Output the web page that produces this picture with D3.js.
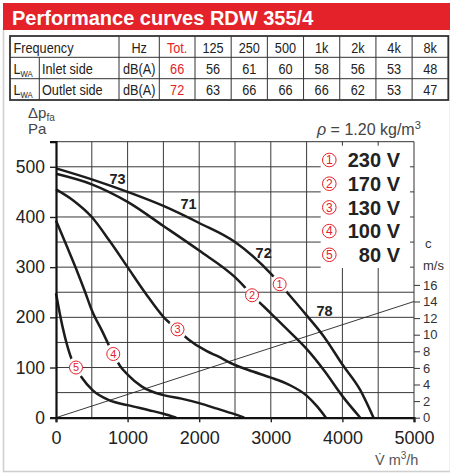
<!DOCTYPE html>
<html>
<head>
<meta charset="utf-8">
<script src="https://cdn.jsdelivr.net/npm/d3@7/dist/d3.min.js"></script>
<style>
  body { margin: 0; background: #fff; }
  text { font-family: "Liberation Sans", Arial, Helvetica, sans-serif; }
</style>
</head>
<body>
<div id="chart"></div>
<script>
// sound table
const freqs = ["125", "250", "500", "1k", "2k", "4k", "8k"];
const inletLevels = [56, 61, 60, 58, 56, 53, 48];
const outletLevels = [63, 66, 66, 66, 62, 53, 47];
const inletTotal = 66;
const outletTotal = 72;

// fan curves, [airflow m3/h, pressure Pa]
const voltages = ["230 V", "170 V", "130 V", "100 V", "80 V"];
const curve230 = [[0,497],[500,475],[1000,450],[1500,422],[2000,388],[2500,350],[3000,287],[3250,246],[3500,204],[3750,160],[4000,106],[4250,55],[4435,0]];
const curve170 = [[0,486],[500,465],[1000,430],[1500,382],[2000,333],[2500,280],[2750,243],[3000,208],[3250,173],[3500,137],[3750,93],[4000,43],[4250,0]];
const curve130 = [[0,455],[250,432],[500,400],[750,352],[1000,300],[1250,248],[1500,201],[1700,175],[1850,156],[2100,133],[2250,123],[2500,105],[2750,92],[3000,80],[3250,66],[3500,44],[3650,22],[3770,0]];
const curve100 = [[0,393],[150,342],[300,290],[400,253],[500,214],[650,171],[750,141],[800,127],[900,102],[1000,86],[1200,62],[1500,45],[1750,38],[2000,29],[2250,18],[2450,9],[2630,0]];
const curve80 = [[0,248],[90,182],[160,142],[220,116],[280,100],[370,78],[510,55],[740,35],[1000,25],[1300,15],[1500,8],[1680,0]];
const curves = [curve230, curve170, curve130, curve100, curve80];

// circled curve numbers sitting on the curves
const curveMarks = [[3124,266],[2738,244],[1697,176],[800,127],[279,100]];
// sound power labels
const soundLabels = [["73",860,476],["71",1850,427],["72",2900,328],["78",3750,214]];

// duct velocity line, [airflow m3/h, velocity m/s]
const velocityLine = [[0,0],[5000,14]];
const velocityTicks = [0, 2, 4, 6, 8, 10, 12, 14, 16];

const W = 450, H = 473;
const red = "#e4222a";
const ink = "#222";

const svg = d3.select("#chart").append("svg")
  .attr("width", W).attr("height", H);

// page frame + title band
svg.append("rect")
  .attr("x", 3.5).attr("y", 28).attr("width", 447).attr("height", 443.5)
  .attr("fill", "none").attr("stroke", "#cfcfcf").attr("stroke-width", 1.6);
svg.append("rect")
  .attr("x", 3).attr("y", 3).attr("width", 447).attr("height", 27)
  .attr("fill", red);
svg.append("text")
  .attr("x", 12).attr("y", 24.5)
  .attr("fill", "#fff")
  .style("font-size", "20px").style("font-weight", "bold")
  .text("Performance curves RDW 355/4");

// ---- table ----
const tTop = 36, r1 = 57.3, r2 = 78.7, tBot = 100;
const tLeft = 10, tRight = 448.3;
const colHz = [119, 159.3], colTot = [159.3, 195];
const fx = d3.scaleBand().domain(freqs).range([195, tRight]);
const squeeze = 0.82;   // condensed look, no narrow font available

const table = svg.append("g").style("font-size", "15.5px").attr("fill", ink);

// text helper: horizontally squeezed
function tText(tx, ty, anchor, str, fill) {
  const t = table.append("text")
    .attr("transform", `translate(${tx},${ty}) scale(${squeeze},1)`)
    .attr("text-anchor", anchor)
    .text(str);
  if (fill) t.attr("fill", fill);
  return t;
}

[r1, r2].forEach(yy => table.append("line")
  .attr("x1", tLeft).attr("x2", tRight).attr("y1", yy).attr("y2", yy)
  .attr("stroke", "#333").attr("stroke-width", 1));
const vlines = [colHz[0], colHz[1], colTot[1]].concat(freqs.slice(1).map(f => fx(f)));
vlines.forEach(xx => table.append("line")
  .attr("x1", xx).attr("x2", xx).attr("y1", tTop).attr("y2", tBot)
  .attr("stroke", "#333").attr("stroke-width", 1));
table.append("line")
  .attr("x1", 39.3).attr("x2", 39.3).attr("y1", r1).attr("y2", tBot)
  .attr("stroke", "#333").attr("stroke-width", 1);
table.append("rect")
  .attr("x", tLeft).attr("y", tTop).attr("width", tRight - tLeft).attr("height", tBot - tTop)
  .attr("fill", "none").attr("stroke", "#333").attr("stroke-width", 1.8);

const base = [53.3, 74.2, 95];
const hzX = (colHz[0] + colHz[1]) / 2, totX = (colTot[0] + colTot[1]) / 2;
tText(13.5, base[0], "start", "Frequency");
tText(hzX, base[0], "middle", "Hz");
tText(totX, base[0], "middle", "Tot.", red);
freqs.forEach(f => tText(fx(f) + fx.bandwidth() / 2, base[0], "middle", f));

const rows = [
  { name: "Inlet side", tot: inletTotal, vals: inletLevels, y: base[1] },
  { name: "Outlet side", tot: outletTotal, vals: outletLevels, y: base[2] }
];
rows.forEach(r => {
  const lwa = tText(13.5, r.y, "start", null);
  lwa.append("tspan").text("L");
  lwa.append("tspan").attr("dy", 3).style("font-size", "9.5px").text("WA");
  tText(42, r.y, "start", r.name);
  tText(hzX, r.y, "middle", "dB(A)");
  tText(totX, r.y, "middle", r.tot, red);
  r.vals.forEach((d, i) => tText(fx(freqs[i]) + fx.bandwidth() / 2, r.y, "middle", d));
});

// ---- chart ----
const x = d3.scaleLinear().domain([0, 5000]).range([56, 414]);
const y = d3.scaleLinear().domain([0, 550]).range([417.7, 141.7]);
const v = d3.scaleLinear().domain([0, 16]).range([417.7, 417.7 - 16 * 8.3]);

// axis captions
const lbl = svg.append("g").attr("fill", "#444").style("font-size", "15px");
const dp = lbl.append("text").attr("x", 28).attr("y", 118);
dp.append("tspan").text("\u0394p");
dp.append("tspan").attr("dy", 3).style("font-size", "10px").text("fa");
lbl.append("text").attr("x", 28).attr("y", 134).text("Pa");
const rho = lbl.append("text").attr("x", 317).attr("y", 135).style("font-size", "16px");
rho.append("tspan").style("font-style", "italic").text("\u03c1");
rho.append("tspan").text(" = 1.20 kg/m");
rho.append("tspan").attr("dy", -6).style("font-size", "11px").text("3");

// grid
const grid = svg.append("g").attr("stroke", "#3a3a3a").attr("stroke-width", 1);
grid.selectAll(".gx").data(d3.range(500, 5000, 500)).enter().append("line")
  .attr("x1", d => x(d)).attr("x2", d => x(d))
  .attr("y1", y(550)).attr("y2", y(0));
grid.selectAll(".gy").data(d3.range(50, 550, 50)).enter().append("line")
  .attr("x1", x(0)).attr("x2", x(5000))
  .attr("y1", d => y(d)).attr("y2", d => y(d));

// velocity line
svg.append("path")
  .datum(velocityLine)
  .attr("d", d3.line().x(d => x(d[0])).y(d => v(d[1])))
  .attr("fill", "none").attr("stroke", "#222").attr("stroke-width", 0.9);

// mask so the curves break around their numbers
const defs = svg.append("defs");
const mask = defs.append("mask").attr("id", "gaps").attr("maskUnits", "userSpaceOnUse")
  .attr("x", 0).attr("y", 0).attr("width", W).attr("height", H);
mask.append("rect").attr("width", W).attr("height", H).attr("fill", "#fff");
mask.selectAll("circle").data(curveMarks).enter().append("circle")
  .attr("cx", d => x(d[0])).attr("cy", d => y(d[1])).attr("r", 10).attr("fill", "#000");

const line = d3.line().x(d => x(d[0])).y(d => y(d[1])).curve(d3.curveMonotoneX);
svg.append("g").attr("mask", "url(#gaps)")
  .selectAll("path").data(curves).enter().append("path")
  .attr("d", line)
  .attr("fill", "none").attr("stroke", "#1c1c1c").attr("stroke-width", 2.5)
  .attr("stroke-linejoin", "round");

// circled numbers
function circled(g, cx, cy, n, r, fs) {
  g.append("circle").attr("cx", cx).attr("cy", cy).attr("r", r)
    .attr("fill", "#fff").attr("stroke", red).attr("stroke-width", 1);
  g.append("text").attr("x", cx).attr("y", cy).attr("dy", "0.36em")
    .attr("text-anchor", "middle").attr("fill", red)
    .style("font-size", fs + "px").text(n);
}
const marks = svg.append("g");
curveMarks.forEach((d, i) => circled(marks, x(d[0]), y(d[1]), i + 1, 6.5, 11));

// sound labels
svg.append("g").selectAll("text").data(soundLabels).enter().append("text")
  .attr("x", d => x(d[1])).attr("y", d => y(d[2])).attr("dy", "0.36em")
  .attr("text-anchor", "middle").attr("fill", ink)
  .style("font-size", "14.5px").style("font-weight", "bold")
  .text(d => d[0]);

// legend box covering the grid
const lgX = 320.7, lgY = y(550) + 0.5, lgB = 268;
svg.append("rect")
  .attr("x", lgX).attr("y", lgY).attr("width", x(5000) - lgX).attr("height", lgB - lgY)
  .attr("fill", "#fff");
const edge = svg.append("g").attr("stroke", "#3a3a3a").attr("stroke-width", 1);
[4000, 4500].forEach(q => edge.append("line")
  .attr("x1", x(q)).attr("x2", x(q)).attr("y1", y(550)).attr("y2", y(550) + 4));
d3.range(300, 550, 50).forEach(p => edge.append("line")
  .attr("x1", x(5000) - 4).attr("x2", x(5000)).attr("y1", y(p)).attr("y2", y(p)));

const legend = svg.append("g");
voltages.forEach((t, i) => {
  const cy = 160 + i * 23.7;
  circled(legend, 329.3, cy, i + 1, 6.8, 12);
  legend.append("text").attr("x", 400).attr("y", cy).attr("dy", "0.36em")
    .attr("text-anchor", "end").attr("fill", ink)
    .style("font-size", "20px").style("font-weight", "bold").text(t);
});

// frame
const frame = svg.append("g").attr("fill", "none");
frame.append("line").attr("x1", x(0)).attr("x2", x(5000)).attr("y1", y(550)).attr("y2", y(550))
  .attr("stroke", "#333").attr("stroke-width", 1);
frame.append("line").attr("x1", x(5000)).attr("x2", x(5000)).attr("y1", y(550)).attr("y2", y(0))
  .attr("stroke", "#333").attr("stroke-width", 1);

// axes
const yAxis = svg.append("g").attr("transform", `translate(${x(0)},0)`)
  .call(d3.axisLeft(y).tickValues(d3.range(0, 600, 100)).tickSize(6).tickPadding(5));
const xAxis = svg.append("g").attr("transform", `translate(0,${y(0)})`)
  .call(d3.axisBottom(x).tickValues(d3.range(0, 6000, 1000)).tickFormat(d3.format("d"))
    .tickSize(4.5).tickPadding(9));
const vAxis = svg.append("g").attr("transform", `translate(${x(5000)},0)`)
  .call(d3.axisRight(v).tickValues(velocityTicks).tickSize(6).tickPadding(3));

[yAxis, xAxis].forEach(a => {
  a.select(".domain").attr("stroke", "#111").attr("stroke-width", 2.2);
  a.selectAll(".tick line").attr("stroke", "#222").attr("stroke-width", 1.4);
  a.selectAll(".tick text").attr("fill", ink).style("font-size", "17.5px");
});
xAxis.selectAll(".tick text").style("font-size", "18px");
vAxis.select(".domain").remove();
vAxis.selectAll(".tick line").attr("stroke", "#333").attr("stroke-width", 1);
vAxis.selectAll(".tick text").attr("fill", "#333").style("font-size", "13px");

svg.append("text").attr("x", 425).attr("y", 248).attr("fill", "#333")
  .style("font-size", "13px").text("c");
svg.append("text").attr("x", 423).attr("y", 270).attr("fill", "#333")
  .style("font-size", "13px").text("m/s");

const vq = svg.append("text").attr("x", 375).attr("y", 465).attr("fill", "#555")
  .style("font-size", "14.5px");
vq.append("tspan").text("V\u0307  m");
vq.append("tspan").attr("dy", -6).style("font-size", "10px").text("3");
vq.append("tspan").attr("dy", 6).text("/h");
</script>
</body>
</html>
